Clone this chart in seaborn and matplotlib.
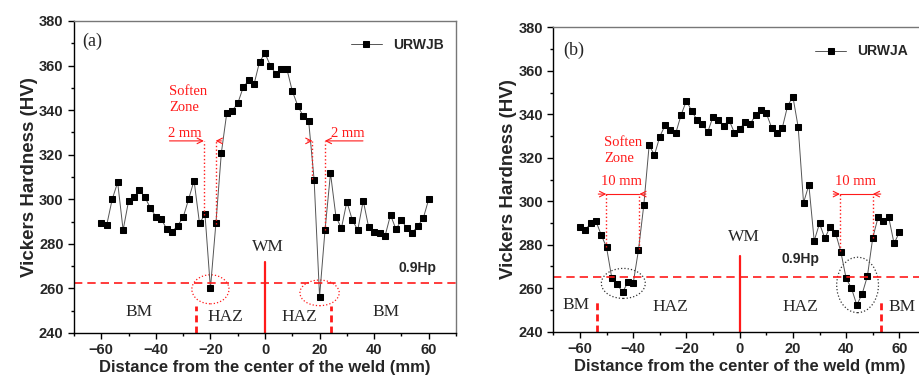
import matplotlib
matplotlib.use("Agg")
import matplotlib.pyplot as plt
from matplotlib.patches import Ellipse
from matplotlib.ticker import MultipleLocator
import seaborn as sns
import pandas as pd

# ---------------- data ----------------
distance_mm = [-60, -58, -56, -54, -52, -50, -48, -46, -44, -42, -40, -38, -36, -34, -32,
               -30, -28, -26, -24, -22, -20, -18, -16, -14, -12, -10, -8, -6, -4, -2, 0,
               2, 4, 6, 8, 10, 12, 14, 16, 18, 20, 22, 24, 26, 28, 30, 32, 34, 36, 38,
               40, 42, 44, 46, 48, 50, 52, 54, 56, 58, 60]

hv_urwjb = [289.2, 288.5, 300.0, 307.6, 286.2, 299.2, 300.9, 304.2, 300.9, 296.1, 292.2,
            291.0, 286.7, 285.5, 288.2, 291.9, 300.0, 308.4, 289.2, 293.3, 260.0, 289.2,
            320.8, 338.8, 339.8, 343.0, 350.2, 353.4, 351.7, 361.7, 365.5, 359.9, 356.2,
            358.4, 358.5, 348.6, 342.0, 337.3, 335.1, 308.8, 256.3, 286.2, 311.7, 292.2,
            287.0, 298.9, 290.7, 286.2, 299.4, 287.4, 285.5, 285.0, 283.5, 293.0, 286.5,
            290.7, 287.0, 285.0, 288.0, 291.5, 300.0]

hv_urwja = [288.3, 286.8, 289.8, 290.9, 284.5, 278.8, 264.5, 261.9, 258.1, 262.7, 262.2,
            277.6, 298.3, 325.7, 321.3, 329.7, 335.0, 332.8, 331.3, 339.7, 346.2, 341.5,
            337.4, 335.4, 331.8, 338.9, 337.2, 334.7, 337.4, 331.6, 333.1, 336.5, 335.6,
            339.7, 341.8, 340.5, 333.9, 331.2, 333.6, 343.8, 348.1, 334.0, 299.3, 307.5,
            281.8, 289.8, 282.9, 288.3, 285.5, 276.8, 264.5, 260.0, 252.3, 257.3, 265.6,
            283.2, 292.6, 290.9, 292.6, 280.6, 285.7]

series_names = ["URWJB", "URWJA"]
panel_labels = ["(a)", "(b)"]
hp09_levels = [262.5, 265.3]
x_label = "Distance from the center of the weld (mm)"
y_label = "Vickers Hardness (HV)"

df_a = pd.DataFrame({"x": distance_mm, "hv": hv_urwjb})
df_b = pd.DataFrame({"x": distance_mm, "hv": hv_urwja})

# ---------------- style ----------------
sns.set_style("ticks")
plt.rcParams["font.family"] = ["Liberation Sans", "DejaVu Sans"]
plt.rcParams["font.weight"] = "bold"
plt.rcParams["axes.labelweight"] = "bold"

fig = plt.figure(figsize=(9.19, 3.81), dpi=100)
ax_a = fig.add_axes([74 / 919, 48 / 381, 382 / 919, 312 / 381])
ax_b = fig.add_axes([553.3 / 919, 49.3 / 381, 372.7 / 919, 304.4 / 381])

SERIF = ["Liberation Serif", "DejaVu Serif"]
RED = "#ff1a1a"


def style_axes(ax):
    ax.set_xlim(-70, 70)
    ax.set_ylim(240, 380)
    ax.xaxis.set_major_locator(MultipleLocator(20))
    ax.xaxis.set_minor_locator(MultipleLocator(10))
    ax.yaxis.set_major_locator(MultipleLocator(20))
    ax.yaxis.set_minor_locator(MultipleLocator(10))
    ax.tick_params(which="major", direction="out", length=4, width=1,
                   labelsize=10.5, color="black")
    ax.tick_params(which="minor", direction="out", length=2.5, width=1, color="black")
    for s in ["left", "bottom"]:
        ax.spines[s].set_color("black")
        ax.spines[s].set_linewidth(1.0)
    for s in ["top", "right"]:
        ax.spines[s].set_visible(True)
        ax.spines[s].set_color("#777777")
        ax.spines[s].set_linewidth(1.0)
    ax.set_xlabel(x_label, fontsize=12, fontweight="bold", labelpad=2)
    ax.set_ylabel(y_label, fontsize=13.5, fontweight="bold", labelpad=1)
    for lbl in ax.get_xticklabels() + ax.get_yticklabels():
        lbl.set_fontweight("bold")


# ---------------- panel (a) ----------------
ax = ax_a
sns.lineplot(data=df_a, x="x", y="hv", ax=ax, color="#555555", lw=0.7,
             marker="s", markersize=5.0, markerfacecolor="black",
             markeredgecolor="black", label=series_names[0])
style_axes(ax)
ax.axhline(hp09_levels[0], color=RED, ls=(0, (5, 3)), lw=1.2)
ax.plot([0, 0], [240, 272], color=RED, lw=1.6)
ax.plot([-25.4, -25.4], [240, 252], color=RED, lw=2, ls=(0, (2.5, 1.5)))
ax.plot([24.1, 24.1], [240, 252], color=RED, lw=2, ls=(0, (2.5, 1.5)))
ax.text(-46.3, 249.6, "BM", family=SERIF, fontweight="normal", fontsize=12.5, ha="center", va="center")
ax.text(44.5, 249.6, "BM", family=SERIF, fontweight="normal", fontsize=12.5, ha="center", va="center")
ax.text(-14.4, 247.3, "HAZ", family=SERIF, fontweight="normal", fontsize=12.5, ha="center", va="center")
ax.text(12.7, 247.3, "HAZ", family=SERIF, fontweight="normal", fontsize=12.5, ha="center", va="center")
ax.text(1.0, 278.5, "WM", family=SERIF, fontweight="normal", fontsize=12.5, ha="center", va="center")
ax.text(56, 269.3, "0.9Hp", fontweight="bold", fontsize=10, ha="center", va="center")
ax.text(-63.3, 370.7, panel_labels[0], family=SERIF, fontweight="normal", fontsize=13, ha="center", va="center")
ax.add_patch(Ellipse((-20, 259.6), 13.6, 13.0, fill=False, ec=RED, ls=":", lw=0.9))
ax.add_patch(Ellipse((20, 258.0), 14.4, 11.5, fill=False, ec=RED, ls=":", lw=0.9))
# soften zone dimension marks (left)
ax.plot([-22.4, -22.4], [293, 326.2], color=RED, ls=":", lw=1)
ax.plot([-18.1, -18.1], [289, 326.2], color=RED, ls=":", lw=1)
ax.annotate("", xy=(-22.4, 326.2), xytext=(-35, 326.2),
            arrowprops=dict(arrowstyle="->", color=RED, lw=0.8, shrinkA=0, shrinkB=0))
ax.annotate("", xy=(-18.1, 326.2), xytext=(-16.0, 326.2),
            arrowprops=dict(arrowstyle="->", color=RED, lw=0.8, shrinkA=0, shrinkB=0))
ax.text(-29.4, 329.6, "2 mm", family=SERIF, fontweight="normal", fontsize=10.5, color=RED, ha="center", va="center")
ax.text(-35.2, 344.7, "Soften\nZone", family=SERIF, fontweight="normal", fontsize=10.5, color=RED,
        ha="left", va="center", linespacing=1.3)
# right
ax.plot([17.4, 17.4], [309, 326.2], color=RED, ls=":", lw=1)
ax.plot([21.9, 21.9], [286, 326.2], color=RED, ls=":", lw=1)
ax.annotate("", xy=(21.9, 326.2), xytext=(35.9, 326.2),
            arrowprops=dict(arrowstyle="->", color=RED, lw=0.8, shrinkA=0, shrinkB=0))
ax.annotate("", xy=(17.4, 326.2), xytext=(15.6, 326.2),
            arrowprops=dict(arrowstyle="->", color=RED, lw=0.8, shrinkA=0, shrinkB=0))
ax.text(30.4, 329.6, "2 mm", family=SERIF, fontweight="normal", fontsize=10.5, color=RED, ha="center", va="center")
ax.legend(loc="upper right", frameon=False, handlelength=2.2,
          bbox_to_anchor=(1.0, 0.985), prop={"weight": "bold", "size": 10})

# ---------------- panel (b) ----------------
ax = ax_b
sns.lineplot(data=df_b, x="x", y="hv", ax=ax, color="#555555", lw=0.7,
             marker="s", markersize=4.2, markerfacecolor="black",
             markeredgecolor="black", label=series_names[1])
style_axes(ax)
ax.axhline(hp09_levels[1], color=RED, ls=(0, (5, 3)), lw=1.2)
ax.plot([0, 0], [240, 275], color=RED, lw=1.6)
ax.plot([-53.4, -53.4], [240, 254], color=RED, lw=2, ls=(0, (2.5, 1.5)))
ax.plot([53.0, 53.0], [240, 254], color=RED, lw=2, ls=(0, (2.5, 1.5)))
ax.text(-61.3, 252.5, "BM", family=SERIF, fontweight="normal", fontsize=12.5, ha="center", va="center")
ax.text(61.0, 251.5, "BM", family=SERIF, fontweight="normal", fontsize=12.5, ha="center", va="center")
ax.text(-26.2, 251.5, "HAZ", family=SERIF, fontweight="normal", fontsize=12.5, ha="center", va="center")
ax.text(22.7, 251.2, "HAZ", family=SERIF, fontweight="normal", fontsize=12.5, ha="center", va="center")
ax.text(1.5, 283.7, "WM", family=SERIF, fontweight="normal", fontsize=12.5, ha="center", va="center")
ax.text(23, 273.3, "0.9Hp", fontweight="bold", fontsize=10, ha="center", va="center")
ax.text(-62.3, 369.6, panel_labels[1], family=SERIF, fontweight="normal", fontsize=13, ha="center", va="center")
ax.add_patch(Ellipse((-43.7, 262.2), 16.5, 13.8, fill=False, ec="#333333", ls=":", lw=0.9))
ax.add_patch(Ellipse((44.3, 261.5), 15.7, 25.5, fill=False, ec="#333333", ls=":", lw=0.9))
for xl, xr, ybot_l, ybot_r, xo_l, xo_r, xt in [(-50.1, -37.7, 279, 278, -53.1, -35.2, -44.3),
                                               (37.7, 50.0, 277, 283, 35.2, 53.0, 43.7)]:
    ax.plot([xl, xl], [ybot_l, 303.3], color=RED, ls=":", lw=1)
    ax.plot([xr, xr], [ybot_r, 303.3], color=RED, ls=":", lw=1)
    ax.plot([xl, xr], [303.3, 303.3], color=RED, lw=0.8)
    ax.annotate("", xy=(xl, 303.3), xytext=(xo_l, 303.3),
                arrowprops=dict(arrowstyle="->", color=RED, lw=0.8, shrinkA=0, shrinkB=0))
    ax.annotate("", xy=(xr, 303.3), xytext=(xo_r, 303.3),
                arrowprops=dict(arrowstyle="->", color=RED, lw=0.8, shrinkA=0, shrinkB=0))
    ax.text(xt, 308.9, "10 mm", family=SERIF, fontweight="normal", fontsize=10.5, color=RED,
            ha="center", va="center")
ax.text(-50.9, 323.2, "Soften\nZone", family=SERIF, fontweight="normal", fontsize=10.5, color=RED,
        ha="left", va="center", linespacing=1.3)
ax.legend(loc="upper right", frameon=False, handlelength=2.2,
          bbox_to_anchor=(0.985, 0.985), prop={"weight": "bold", "size": 10})

fig.savefig("out.png", dpi=100)
